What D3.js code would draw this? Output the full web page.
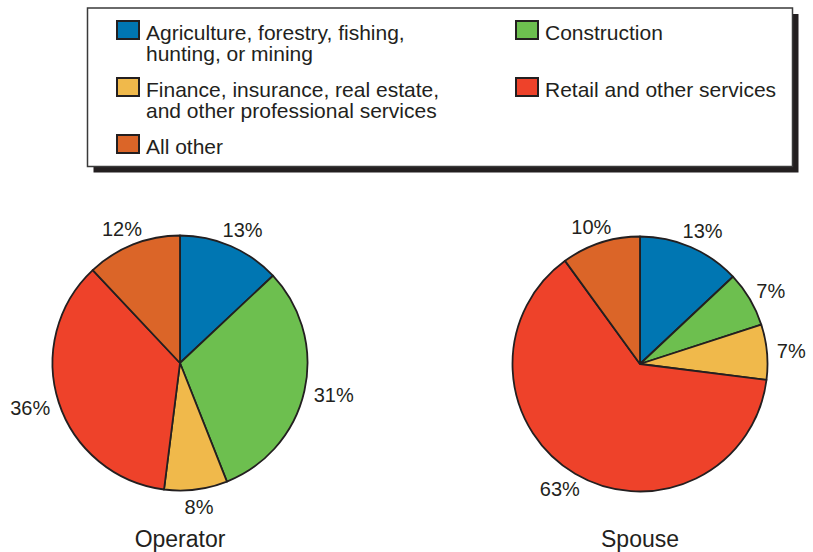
<!DOCTYPE html>
<html>
<head>
<meta charset="utf-8">
<script src="https://cdn.jsdelivr.net/npm/d3@7"></script>
<style>
  html, body { margin: 0; padding: 0; background: #fff; }
  svg { display: block; font-family: "Liberation Sans", Arial, Helvetica, sans-serif; }
</style>
</head>
<body>
<svg id="chart" width="813" height="552"></svg>
<script>
// Industry categories, in the order slices run clockwise from 12 o'clock
const categories = [
  "Agriculture, forestry, fishing, hunting, or mining",
  "Construction",
  "Finance, insurance, real estate, and other professional services",
  "Retail and other services",
  "All other"
];
// Legend text, broken into lines
const legendLines = [
  ["Agriculture, forestry, fishing,", "hunting, or mining"],
  ["Construction"],
  ["Finance, insurance, real estate,", "and other professional services"],
  ["Retail and other services"],
  ["All other"]
];
const colors = ["#0076b2", "#6dbf4f", "#f0b94b", "#ee422a", "#db6528"];

// Share of employment (percent)
const operatorValues = [13, 31, 8, 36, 12];
const spouseValues   = [13, 7, 7, 63, 10];
const pieTitles = ["Operator", "Spouse"];

const svg = d3.select("#chart");
const ink = "#231f20";

// ---- Legend ----
const lg = { x: 87.5, y: 8, w: 705, h: 158.5, shadow: 6 };
svg.append("rect")
  .attr("x", lg.x + lg.shadow).attr("y", lg.y + lg.shadow)
  .attr("width", lg.w).attr("height", lg.h)
  .attr("fill", ink);
svg.append("rect")
  .attr("x", lg.x).attr("y", lg.y)
  .attr("width", lg.w).attr("height", lg.h)
  .attr("fill", "#fff").attr("stroke", "#3a3a3a").attr("stroke-width", 1.5);

const colX = d3.scaleOrdinal().domain([0, 1]).range([117, 516]);
const rowY = d3.scaleLinear().domain([0, 1]).range([21, 78]);

const items = svg.append("g").selectAll("g")
  .data(categories)
  .join("g")
  .attr("transform", (d, i) => `translate(${colX(i % 2)},${rowY(Math.floor(i / 2))})`);

items.append("rect")
  .attr("width", 22).attr("height", 18)
  .attr("fill", (d, i) => colors[i])
  .attr("stroke", ink).attr("stroke-width", 2);

items.append("text")
  .attr("x", 29).attr("y", 18.5)
  .attr("font-size", 21).attr("fill", ink)
  .selectAll("tspan")
  .data((d, i) => legendLines[i])
  .join("tspan")
  .attr("x", 29)
  .attr("dy", (d, j) => j === 0 ? 0 : 21.5)
  .text(d => d);

// ---- Pies ----
const radius = 127.5;
const pie = d3.pie().sort(null).value(d => d);
const arc = d3.arc().innerRadius(0).outerRadius(radius);
const pieCenters = [[180, 363], [640, 364]];

[operatorValues, spouseValues].forEach((vals, k) => {
  const [cx, cy] = pieCenters[k];
  const g = svg.append("g").attr("transform", `translate(${cx},${cy})`);
  const arcs = pie(vals);

  g.selectAll("path")
    .data(arcs)
    .join("path")
    .attr("d", arc)
    .attr("fill", (d, i) => colors[i])
    .attr("stroke", ink)
    .attr("stroke-width", 1.8)
    .attr("stroke-linejoin", "round");

  // Percent labels sit just outside the rim, pushed out by half their box
  const gap = 10, capH = 14.3;
  g.selectAll("text.pct")
    .data(arcs)
    .join("text")
    .attr("class", "pct")
    .attr("font-size", 20)
    .attr("fill", ink)
    .attr("text-anchor", "middle")
    .text(d => d.data + "%")
    .each(function (d) {
      const a = (d.startAngle + d.endAngle) / 2;
      const w = this.getComputedTextLength();
      const s = Math.sin(a), c = -Math.cos(a);
      const px = (radius + gap) * s + s * w / 2;
      const py = (radius + gap) * c + c * capH / 2;
      d3.select(this).attr("x", px).attr("y", py + capH / 2);
    });

  g.append("text")
    .attr("x", 0).attr("y", 547 - cy)
    .attr("text-anchor", "middle")
    .attr("font-size", 23)
    .attr("fill", ink)
    .text(pieTitles[k]);
});
</script>
</body>
</html>
